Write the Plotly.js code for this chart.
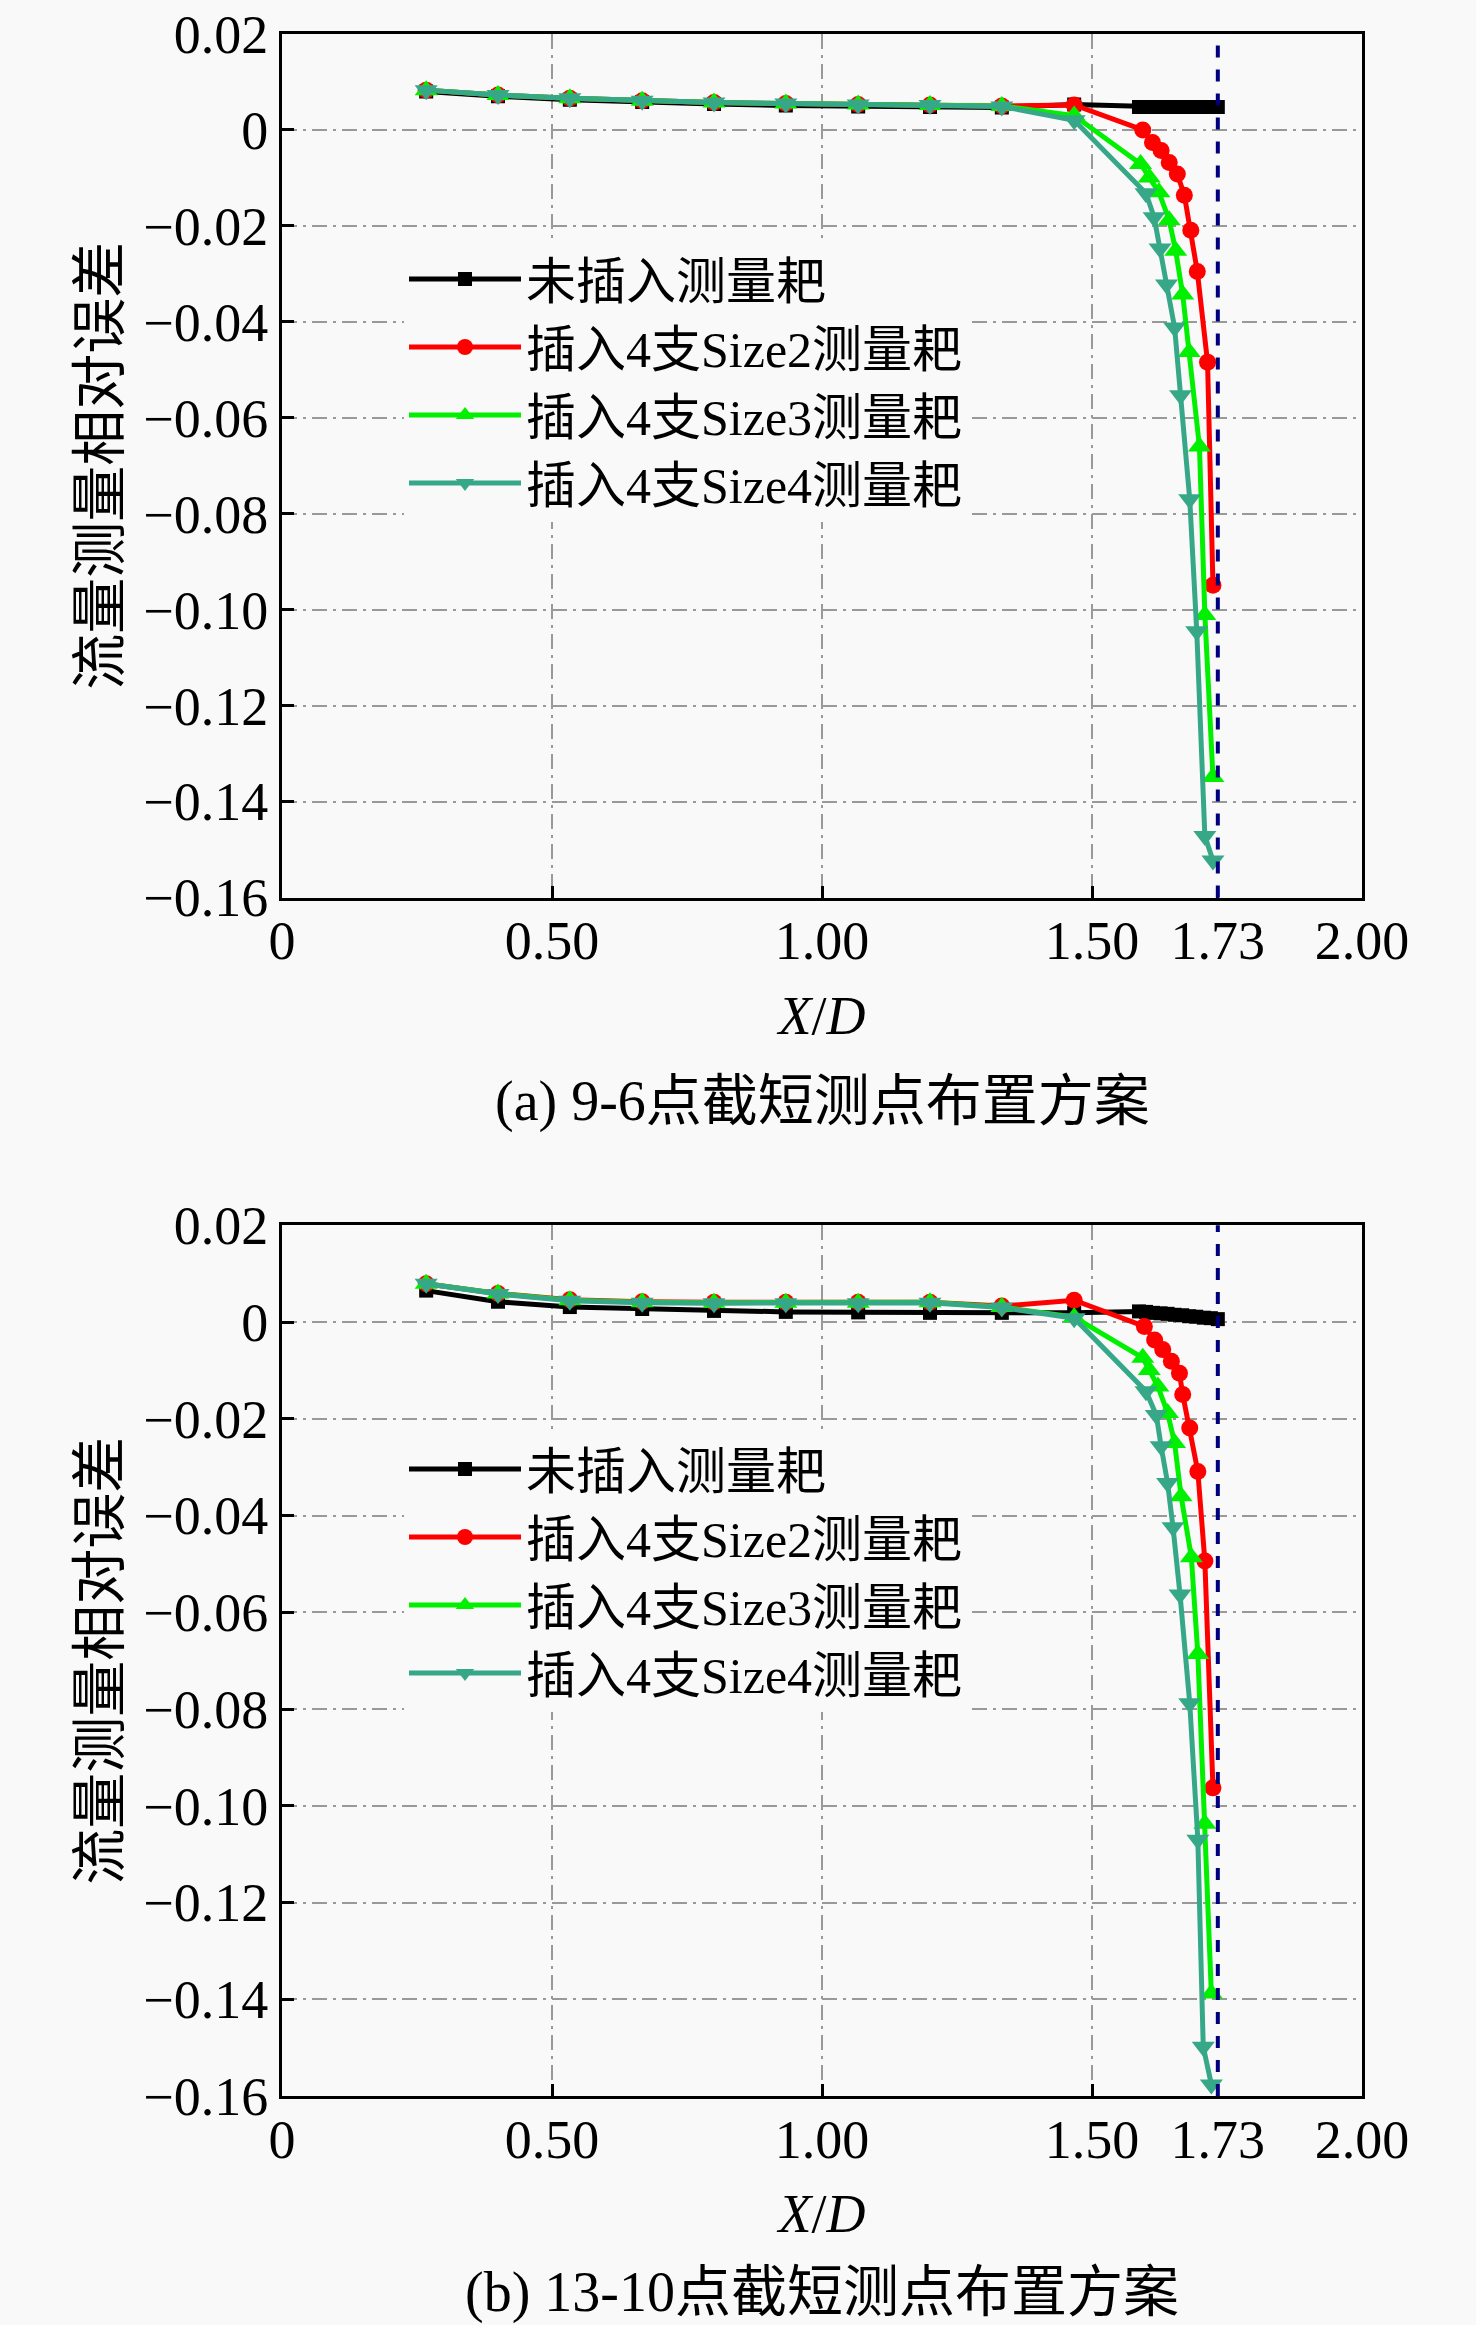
<!DOCTYPE html>
<html>
<head>
<meta charset="utf-8">
<script src="https://cdn.plot.ly/plotly-3.0.1.min.js"></script>
<style>
  html, body { margin: 0; padding: 0; background: #f9f9f9; }
  #chart { width: 1476px; height: 2325px; }
</style>
</head>
<body>
<div id="chart"></div>
<script>
// ---- data ----
const seriesNames = ['未插入测量耙', '插入4支Size2测量耙', '插入4支Size3测量耙', '插入4支Size4测量耙'];
const captionA = '(a) 9-6点截短测点布置方案';
const captionB = '(b) 13-10点截短测点布置方案';
const wallX = 1.733;

const xTicks = [0, 0.5, 1.0, 1.5, 2.0];
const xTickText = ['0', '0.50', '1.00', '1.50', '2.00'];
const wallTickText = ['1.73'];
const yTicks = [0.02, 0, -0.02, -0.04, -0.06, -0.08, -0.10, -0.12, -0.14, -0.16];
const yTickText = ['0.02', '0', '−0.02', '−0.04', '−0.06', '−0.08', '−0.10', '−0.12', '−0.14', '−0.16'];

// measuring points away from the wall (same for every series)
const xEarly = [0.267, 0.400, 0.533, 0.667, 0.800, 0.933, 1.067, 1.200, 1.333, 1.467];

// (a) 9-6
const aBlackEarly = [0.0080, 0.0070, 0.0063, 0.0058, 0.0054, 0.0051, 0.0049, 0.0048, 0.0047, 0.0053];
const aBlackWallX = [1.587, 1.600, 1.613, 1.627, 1.640, 1.653, 1.667, 1.680, 1.693, 1.707, 1.720, 1.733];
const aBlackWallY = [0.0048, 0.0048, 0.0048, 0.0048, 0.0048, 0.0048, 0.0048, 0.0048, 0.0048, 0.0048, 0.0048, 0.0048];

const aRedEarly = [0.0083, 0.0073, 0.0066, 0.0061, 0.0057, 0.0055, 0.0053, 0.0052, 0.0050, 0.0052];
const aRedWallX = [1.594, 1.612, 1.628, 1.643, 1.658, 1.671, 1.683, 1.695, 1.714, 1.724];
const aRedWallY = [0.0000, -0.0026, -0.0043, -0.0068, -0.0092, -0.0136, -0.0209, -0.0295, -0.0484, -0.0949];

const aGreenEarly = [0.0083, 0.0073, 0.0066, 0.0061, 0.0057, 0.0055, 0.0053, 0.0052, 0.0050, 0.0030];
const aGreenWallX = [1.590, 1.606, 1.624, 1.643, 1.655, 1.668, 1.680, 1.699, 1.709, 1.724];
const aGreenWallY = [-0.0071, -0.0099, -0.0130, -0.0188, -0.0252, -0.0343, -0.0463, -0.0660, -0.1011, -0.1349];

const aTealEarly = [0.0083, 0.0073, 0.0066, 0.0061, 0.0057, 0.0055, 0.0053, 0.0052, 0.0049, 0.0020];
const aTealWallX = [1.600, 1.615, 1.626, 1.638, 1.653, 1.664, 1.681, 1.694, 1.709, 1.724];
const aTealWallY = [-0.0132, -0.0182, -0.0247, -0.0322, -0.0412, -0.0553, -0.0770, -0.1045, -0.1472, -0.1523];

// (b) 13-10
const bBlackEarly = [0.0065, 0.0042, 0.0031, 0.0027, 0.0023, 0.0021, 0.0020, 0.0019, 0.0019, 0.0019];
const bBlackWallX = [1.587, 1.600, 1.613, 1.627, 1.640, 1.653, 1.667, 1.680, 1.693, 1.707, 1.720, 1.733];
const bBlackWallY = [0.0022, 0.0021, 0.0019, 0.0018, 0.0017, 0.0015, 0.0014, 0.0012, 0.0011, 0.0009, 0.0008, 0.0006];

const bRedEarly = [0.0079, 0.0059, 0.0046, 0.0042, 0.0041, 0.0041, 0.0041, 0.0041, 0.0033, 0.0045];
const bRedWallX = [1.597, 1.616, 1.631, 1.647, 1.662, 1.668, 1.681, 1.696, 1.709, 1.724];
const bRedWallY = [-0.0009, -0.0037, -0.0057, -0.0081, -0.0106, -0.0150, -0.0219, -0.0309, -0.0494, -0.0963];

const bGreenEarly = [0.0079, 0.0059, 0.0045, 0.0041, 0.0040, 0.0040, 0.0040, 0.0041, 0.0031, 0.0010];
const bGreenWallX = [1.594, 1.606, 1.622, 1.640, 1.653, 1.665, 1.684, 1.696, 1.709, 1.721];
const bGreenWallY = [-0.0074, -0.0099, -0.0133, -0.0188, -0.0250, -0.0360, -0.0486, -0.0686, -0.1037, -0.1388];

const bTealEarly = [0.0079, 0.0058, 0.0044, 0.0040, 0.0039, 0.0039, 0.0039, 0.0040, 0.0030, 0.0008];
const bTealWallX = [1.600, 1.619, 1.628, 1.640, 1.650, 1.663, 1.681, 1.696, 1.706, 1.721];
const bTealWallY = [-0.0143, -0.0192, -0.0257, -0.0333, -0.0424, -0.0563, -0.0788, -0.1070, -0.1498, -0.1576];

// ---- styling ----
const FONT = '"Liberation Serif", "Times New Roman", "Noto Sans CJK SC", serif';
const BG = '#f9f9f9';
const colors = ['#000000', '#ff0000', '#00f000', '#36a888'];
const symbols = ['square', 'circle', 'triangle-up', 'triangle-down'];
const sizes = [14, 17, 20, 20];

function makeTrace(i, early, wallXs, wallYs, xa, ya, legend) {
    return {
        type: 'scatter',
        mode: 'lines+markers',
        x: xEarly.concat(wallXs),
        y: early.concat(wallYs),
        name: seriesNames[i],
        xaxis: xa,
        yaxis: ya,
        legend: legend,
        line: { color: colors[i], width: 5 },
        marker: { symbol: symbols[i], size: sizes[i], color: colors[i] }
    };
}

const data = [
    makeTrace(0, aBlackEarly, aBlackWallX, aBlackWallY, 'x', 'y', 'legend'),
    makeTrace(1, aRedEarly, aRedWallX, aRedWallY, 'x', 'y', 'legend'),
    makeTrace(2, aGreenEarly, aGreenWallX, aGreenWallY, 'x', 'y', 'legend'),
    makeTrace(3, aTealEarly, aTealWallX, aTealWallY, 'x', 'y', 'legend'),
    makeTrace(0, bBlackEarly, bBlackWallX, bBlackWallY, 'x2', 'y2', 'legend2'),
    makeTrace(1, bRedEarly, bRedWallX, bRedWallY, 'x2', 'y2', 'legend2'),
    makeTrace(2, bGreenEarly, bGreenWallX, bGreenWallY, 'x2', 'y2', 'legend2'),
    makeTrace(3, bTealEarly, bTealWallX, bTealWallY, 'x2', 'y2', 'legend2')
];

const xDomain = [282 / 1476, 1362 / 1476];
const yDomainA = [1 - 897.5 / 2325, 1 - 34 / 2325];
const yDomainB = [1 - 2096 / 2325, 1 - 1225.3 / 2325];

const tickFont = { family: FONT, size: 54, color: '#000' };

function xAxis(anchor) {
    return {
        domain: xDomain,
        anchor: anchor,
        range: [0, 2],
        tickvals: xTicks,
        ticktext: xTickText,
        ticks: 'inside',
        ticklen: 12,
        tickwidth: 3,
        tickcolor: '#000',
        showline: true,
        linecolor: '#000',
        linewidth: 3,
        mirror: true,
        zeroline: false,
        showgrid: true,
        gridcolor: '#999999',
        gridwidth: 2,
        griddash: 'longdashdot',
        automargin: false,
        ticklabeloverflow: 'allow',
        ticklabelstandoff: -6,
        tickfont: tickFont,
        title: {
            text: '<i>X</i>/<i>D</i>',
            font: { family: FONT, size: 54, color: '#000' },
            standoff: 26
        }
    };
}

function wallAxis(base, anchor) {
    return {
        overlaying: base,
        anchor: anchor,
        side: 'bottom',
        range: [0, 2],
        tickvals: [wallX],
        ticktext: wallTickText,
        ticks: 'inside',
        ticklen: 12,
        tickwidth: 3,
        tickcolor: '#00007f',
        showline: true,
        linecolor: '#000',
        linewidth: 3,
        showgrid: false,
        zeroline: false,
        automargin: false,
        ticklabeloverflow: 'allow',
        ticklabelstandoff: -6,
        tickfont: tickFont
    };
}

function yAxis(domain, anchor) {
    return {
        domain: domain,
        anchor: anchor,
        range: [-0.16, 0.02],
        tickvals: yTicks,
        ticktext: yTickText,
        ticks: 'inside',
        ticklen: 12,
        tickwidth: 3,
        tickcolor: '#000',
        showline: true,
        linecolor: '#000',
        linewidth: 3,
        mirror: true,
        zeroline: false,
        showgrid: true,
        gridcolor: '#999999',
        gridwidth: 2,
        griddash: 'longdashdot',
        automargin: false,
        ticklabeloverflow: 'allow',
        tickfont: tickFont,
        title: {
            text: '流量测量相对误差',
            font: { family: FONT, size: 56, color: '#000' },
            standoff: 6
        }
    };
}

function legendBox(y) {
    return {
        x: 404 / 1476,
        y: y,
        xanchor: 'left',
        yanchor: 'top',
        bgcolor: BG,
        borderwidth: 0,
        itemwidth: 112,
        font: { family: FONT, size: 50, color: '#000' },
        tracegroupgap: 0
    };
}

function wallLine(xref) {
    return {
        type: 'line',
        xref: xref,
        yref: (xref === 'x' ? 'y' : 'y2') + ' domain',
        x0: wallX, x1: wallX, y0: 0, y1: 1,
        line: { color: '#00007f', width: 4, dash: 'dash' }
    };
}

const captionFont = { family: FONT, size: 56, color: '#000' };

const layout = {
    width: 1476,
    height: 2325,
    margin: { l: 0, r: 0, t: 0, b: 0 },
    paper_bgcolor: BG,
    plot_bgcolor: BG,
    font: { family: FONT, color: '#000' },
    showlegend: true,
    xaxis: xAxis('y'),
    yaxis: yAxis(yDomainA, 'x'),
    xaxis2: xAxis('y2'),
    yaxis2: yAxis(yDomainB, 'x2'),
    xaxis3: wallAxis('x', 'y'),
    xaxis4: wallAxis('x2', 'y2'),
    legend: legendBox(1 - 240 / 2325),
    legend2: legendBox(1 - 1430 / 2325),
    shapes: [wallLine('x'), wallLine('x2')],
    annotations: [
        {
            text: captionA, xref: 'paper', yref: 'paper',
            x: 822 / 1476, y: 1 - 1101 / 2325, xanchor: 'center', yanchor: 'middle',
            showarrow: false, font: captionFont
        },
        {
            text: captionB, xref: 'paper', yref: 'paper',
            x: 822 / 1476, y: 1 - 2292 / 2325, xanchor: 'center', yanchor: 'middle',
            showarrow: false, font: captionFont
        }
    ]
};

// empty traces so the overlay axes carrying the 1.73 label are drawn
data.push({ type: 'scatter', x: [], y: [], xaxis: 'x3', yaxis: 'y', showlegend: false, hoverinfo: 'skip' });
data.push({ type: 'scatter', x: [], y: [], xaxis: 'x4', yaxis: 'y2', showlegend: false, hoverinfo: 'skip' });

Plotly.newPlot('chart', data, layout, { displayModeBar: false, staticPlot: true });
</script>
</body>
</html>
